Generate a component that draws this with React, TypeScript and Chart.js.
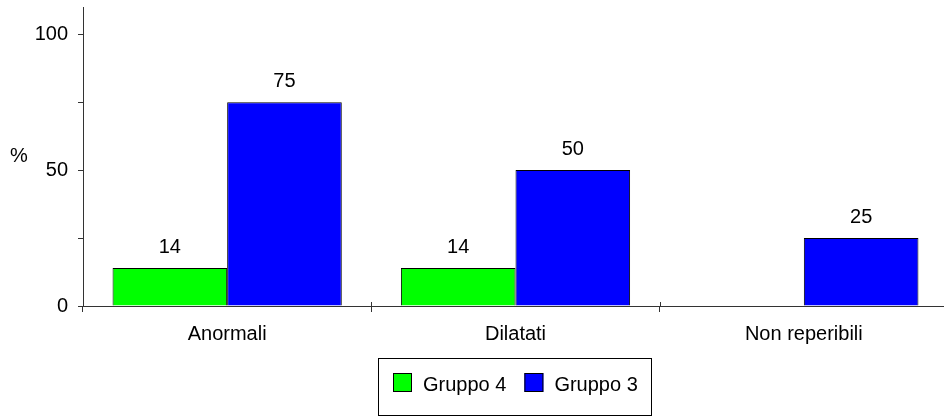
import React, { useEffect, useRef } from 'react';
import { Chart, registerables } from 'chart.js';

Chart.register(...registerables);

// ---- data ----
const categories = ['Anormali', 'Dilatati', 'Non reperibili'];
const gruppo4Values: (number | null)[] = [14, 14, null];
const gruppo3Values: (number | null)[] = [75, 50, 25];
const seriesLabels = ['Gruppo 4', 'Gruppo 3'];
const seriesColors = ['#00FF00', '#0000FF'];
const yTickValues = [0, 25, 50, 75, 100];
const yLabeledTicks = [0, 50, 100];
const yMin = 0;
const yMax = 110;
const yTitle = '%';

const FONT = '"Liberation Sans", Arial, Helvetica, sans-serif';
const FONT_SIZE = 20;
const AXIS_COLOR = '#333333';
const CANVAS_W = 948;
const CANVAS_H = 417;

const decorations = {
  id: 'decorations',
  afterDraw(chart: any) {
    const ctx = chart.ctx as CanvasRenderingContext2D;
    const area = chart.chartArea;
    const xs = chart.scales.x;
    ctx.save();

    // upward part of the x-axis tick marks at category boundaries
    ctx.strokeStyle = AXIS_COLOR;
    ctx.lineWidth = 1;
    const n = chart.data.labels.length;
    for (let i = 0; i <= n; i++) {
      const px = Math.round(xs.getPixelForValue(i - 0.5)) + 0.5;
      ctx.beginPath();
      ctx.moveTo(px, area.bottom - 4);
      ctx.lineTo(px, area.bottom);
      ctx.stroke();
    }

    // value labels above bars
    ctx.fillStyle = '#000';
    ctx.font = `${FONT_SIZE}px ${FONT}`;
    ctx.textAlign = 'center';
    ctx.textBaseline = 'alphabetic';
    chart.data.datasets.forEach((ds: any, di: number) => {
      const meta = chart.getDatasetMeta(di);
      meta.data.forEach((el: any, i: number) => {
        const v = ds.data[i];
        if (v === null || v === undefined) return;
        ctx.fillText(String(v), el.x, el.y - 15);
      });
    });

    // unrotated y-axis title
    ctx.textAlign = 'left';
    ctx.fillText(yTitle, 10, 162);

    // legend with frame
    const boxX = 378.5, boxY = 358.5, boxW = 273, boxH = 57;
    ctx.strokeStyle = '#000';
    ctx.strokeRect(boxX, boxY, boxW, boxH);
    let x = 393;
    const sq = 19;
    const sqY = 373;
    chart.data.datasets.forEach((ds: any) => {
      ctx.fillStyle = ds.backgroundColor;
      ctx.fillRect(x, sqY, sq, sq);
      ctx.strokeStyle = '#000';
      ctx.strokeRect(x + 0.5, sqY + 0.5, sq - 1, sq - 1);
      ctx.fillStyle = '#000';
      ctx.textAlign = 'left';
      ctx.fillText(ds.label, x + 30, 391);
      x += 30 + ctx.measureText(ds.label).width + 18;
    });

    ctx.restore();
  },
};

export default function App() {
  const ref = useRef<HTMLCanvasElement | null>(null);

  useEffect(() => {
    document.documentElement.style.overflow = 'hidden';
    document.body.style.overflow = 'hidden';
    const canvas = ref.current;
    if (!canvas) return;
    const chart = new Chart(canvas, {
      type: 'bar',
      data: {
        labels: categories,
        datasets: [
          {
            label: seriesLabels[0],
            data: gruppo4Values,
            backgroundColor: seriesColors[0],
            borderColor: '#000',
            borderWidth: 1,
            categoryPercentage: 0.795,
            barPercentage: 1,
          },
          {
            label: seriesLabels[1],
            data: gruppo3Values,
            backgroundColor: seriesColors[1],
            borderColor: '#000',
            borderWidth: 1,
            categoryPercentage: 0.795,
            barPercentage: 1,
          },
        ],
      },
      options: {
        responsive: false,
        animation: false,
        devicePixelRatio: 1,
        layout: { padding: { top: 7, left: 0, right: 0, bottom: 0 } },
        plugins: {
          legend: { display: false },
          tooltip: { enabled: false },
        },
        scales: {
          x: {
            grid: {
              drawOnChartArea: false,
              drawTicks: true,
              tickLength: 6,
              color: AXIS_COLOR,
              offset: true,
            },
            border: { color: AXIS_COLOR, width: 1 },
            ticks: {
              color: '#000',
              font: { family: FONT, size: FONT_SIZE },
              padding: 10,
              maxRotation: 0,
              autoSkip: false,
            },
            afterFit: (scale: any) => {
              scale.height = CANVAS_H - 306;
              scale.paddingLeft = 0;
              scale.paddingRight = 0;
            },
          },
          y: {
            min: yMin,
            max: yMax,
            grid: {
              drawOnChartArea: false,
              drawTicks: true,
              tickLength: 5,
              color: AXIS_COLOR,
            },
            border: { color: AXIS_COLOR, width: 1 },
            ticks: {
              color: '#000',
              font: { family: FONT, size: FONT_SIZE },
              padding: 10,
              callback: (v: any) => (yLabeledTicks.includes(Number(v)) ? String(v) : ''),
            },
            afterBuildTicks: (scale: any) => {
              scale.ticks = yTickValues.map((v) => ({ value: v }));
            },
            afterFit: (scale: any) => {
              scale.width = 83;
              scale.paddingTop = 0;
              scale.paddingBottom = 0;
            },
          },
        },
      },
      plugins: [decorations],
    });
    return () => chart.destroy();
  }, []);

  return (
    <div style={{ position: 'fixed', left: 0, top: 0, width: CANVAS_W, height: CANVAS_H, background: '#fff' }}>
      <canvas ref={ref} width={CANVAS_W} height={CANVAS_H} style={{ display: 'block' }} />
    </div>
  );
}
